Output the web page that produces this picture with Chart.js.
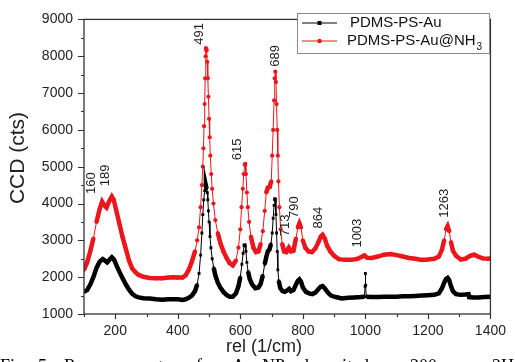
<!DOCTYPE html>
<html>
<head>
<meta charset="utf-8">
<script src="https://cdn.jsdelivr.net/npm/chart.js@4.4.1/dist/chart.umd.min.js"></script>
<style>
  html, body { margin: 0; padding: 0; background: #fff; overflow: hidden; }
</style>
</head>
<body>
<canvas id="ramanChart" width="515" height="362"></canvas>
<script>
// Raman spectra (rel. shift in 1/cm, CCD counts)
const auShift = [100, 110, 120, 130, 140, 150, 160, 167, 174, 182, 189, 196, 205, 213, 223, 234, 244, 254, 265, 275, 290, 310, 330, 350, 370, 385, 400, 415, 425, 435, 445, 455, 462, 468, 473, 477, 480, 483, 486, 488, 490, 492, 494, 496, 498, 500, 503, 506, 510, 515, 520, 528, 536, 546, 556, 566, 576, 586, 594, 600, 605, 609, 612, 615, 618, 621, 625, 630, 638, 648, 658, 665, 672, 678, 683, 688, 693, 698, 702, 705, 708, 710, 712, 714, 716, 718, 720, 723, 728, 735, 742, 750, 756, 762, 770, 778, 784, 789, 794, 800, 810, 820, 830, 840, 850, 857, 863, 870, 880, 890, 905, 925, 945, 965, 985, 997, 999, 1000, 1001, 1003, 1020, 1040, 1060, 1080, 1100, 1120, 1140, 1160, 1180, 1200, 1220, 1235, 1245, 1252, 1258, 1263, 1268, 1274, 1280, 1290, 1305, 1320, 1330, 1332, 1345, 1360, 1380, 1400];
const auCounts = [1600, 1650, 1800, 2000, 2250, 2420, 2490, 2450, 2400, 2480, 2540, 2480, 2300, 2150, 1980, 1800, 1660, 1550, 1480, 1450, 1430, 1420, 1400, 1390, 1400, 1400, 1400, 1380, 1400, 1440, 1500, 1620, 1800, 2100, 2600, 3200, 3700, 4100, 4350, 4450, 4480, 4400, 4300, 4100, 3800, 3500, 3100, 2800, 2500, 2250, 2050, 1850, 1720, 1600, 1520, 1470, 1470, 1560, 1750, 2000, 2350, 2650, 2850, 2880, 2700, 2400, 2150, 1950, 1800, 1700, 1720, 1820, 2050, 2350, 2550, 2700, 2750, 2900, 3200, 3600, 3950, 4130, 4100, 3700, 3200, 2700, 2200, 1900, 1700, 1620, 1600, 1640, 1680, 1620, 1650, 1800, 1900, 1940, 1880, 1720, 1600, 1560, 1540, 1580, 1680, 1740, 1760, 1700, 1580, 1500, 1460, 1420, 1440, 1450, 1460, 1470, 1750, 2100, 1780, 1470, 1460, 1460, 1470, 1470, 1470, 1480, 1480, 1490, 1500, 1510, 1520, 1560, 1700, 1850, 1950, 1980, 1920, 1750, 1620, 1540, 1520, 1530, 1540, 1460, 1450, 1450, 1460, 1470];

const nh3Shift = [100, 110, 120, 130, 140, 150, 158, 165, 172, 180, 189, 195, 205, 213, 223, 234, 244, 254, 265, 275, 290, 310, 330, 350, 370, 385, 400, 415, 425, 435, 445, 455, 462, 468, 473, 477, 480, 482, 484, 486, 487.5, 489, 490, 492, 494, 496, 498, 500, 502, 504, 507, 510, 514, 520, 528, 536, 546, 556, 566, 576, 586, 594, 600, 604, 608, 611, 614, 616, 618, 621, 624, 628, 634, 642, 650, 658, 665, 672, 678, 683, 688, 694, 699, 702, 705, 708, 710, 712, 714, 716, 718, 720, 722, 725, 729, 734, 740, 747, 755, 762, 770, 778, 784, 789, 794, 800, 808, 818, 829, 840, 850, 857, 863, 870, 878, 888, 900, 915, 935, 955, 975, 990, 997, 1005, 1020, 1040, 1060, 1080, 1100, 1120, 1140, 1160, 1180, 1200, 1220, 1235, 1245, 1252, 1258, 1263, 1268, 1274, 1280, 1290, 1305, 1320, 1335, 1348, 1360, 1375, 1390, 1400];
const nh3Counts = [2200, 2400, 2700, 3050, 3500, 3850, 4050, 3950, 3890, 4050, 4190, 4100, 3750, 3460, 3100, 2760, 2450, 2240, 2130, 2060, 2010, 1980, 1970, 1970, 1990, 2000, 1990, 1990, 2050, 2200, 2420, 2700, 3000, 3350, 3900, 4500, 5000, 5500, 6100, 6700, 7400, 8000, 8220, 8150, 7850, 7400, 6900, 6300, 5800, 5300, 4800, 4400, 4000, 3550, 3200, 2930, 2700, 2520, 2380, 2320, 2450, 2800, 3300, 3900, 4400, 4800, 5050, 5080, 4800, 4300, 3900, 3500, 3100, 2800, 2680, 2700, 2900, 3250, 3800, 4300, 4430, 4450, 4600, 5300, 6000, 6800, 7400, 7580, 7300, 6700, 6000, 5300, 4600, 3900, 3300, 2900, 2700, 2680, 2800, 2700, 2720, 3050, 3350, 3460, 3350, 3000, 2800, 2700, 2680, 2780, 2950, 3100, 3150, 3050, 2850, 2700, 2580, 2490, 2470, 2470, 2500, 2560, 2590, 2530, 2520, 2560, 2610, 2630, 2600, 2560, 2520, 2500, 2470, 2480, 2500, 2560, 2750, 3000, 3300, 3380, 3250, 2950, 2720, 2580, 2480, 2500, 2580, 2610, 2560, 2510, 2500, 2510];

const xTicks = [200, 400, 600, 800, 1000, 1200, 1400];
const yTicks = [1000, 2000, 3000, 4000, 5000, 6000, 7000, 8000, 9000];

// peak annotations: text and anchor in data units
const peakLabels = ['160', '189', '491', '615', '689', '713', '790', '864', '1003', '1263'];
const peakLabelAt = [[125, 4555], [169, 4765], [470, 8608], [592, 5470], [713, 8007], [745, 3405], [774, 3902], [849, 3614], [974, 3196], [1253, 4007]];

const RED = 'rgb(236, 22, 28)';
const SANS = '"Liberation Sans", Arial, sans-serif';

function toXY(xs, ys) {
    return xs.map((x, i) => ({ x: x, y: ys[i] }));
}

// thin line on steep flanks, a thick band where markers would overlap
function bandWidth(c) {
    const dx = Math.abs(c.p1.x - c.p0.x);
    const dy = Math.abs(c.p1.y - c.p0.y);
    return dy > 5 * dx ? 1 : 4.5;
}

const decorPlugin = {
    id: 'decor',
    afterDraw(chart) {
        const ctx = chart.ctx;
        const a = chart.chartArea;
        const xs = chart.scales.x;
        const ys = chart.scales.y;
        ctx.save();

        // frame
        ctx.strokeStyle = '#333';
        ctx.lineWidth = 1.3;
        ctx.strokeRect(a.left, a.top, a.right - a.left, a.bottom - a.top);

        // tick marks, outward
        ctx.lineWidth = 1.2;
        ctx.beginPath();
        for (let v = 100; v <= 1400; v += 100) {
            const px = Math.round(xs.getPixelForValue(v)) + 0.5;
            const len = v % 200 === 0 ? 5 : 3;
            ctx.moveTo(px, a.bottom);
            ctx.lineTo(px, a.bottom + len);
        }
        for (let v = 1000; v <= 9000; v += 500) {
            const py = Math.round(ys.getPixelForValue(v)) + 0.5;
            const len = v % 1000 === 0 ? 6 : 3;
            ctx.moveTo(a.left, py);
            ctx.lineTo(a.left - len, py);
        }
        ctx.stroke();

        // axis titles
        ctx.fillStyle = '#222';
        ctx.textAlign = 'center';
        ctx.textBaseline = 'middle';
        ctx.font = '18px ' + SANS;
        ctx.fillText('rel (1/cm)', 264, 347);
        ctx.save();
        ctx.translate(18, 158);
        ctx.rotate(-Math.PI / 2);
        ctx.font = '21px ' + SANS;
        ctx.fillText('CCD (cts)', 0, 0);
        ctx.restore();

        // peak labels
        ctx.font = '13px ' + SANS;
        peakLabels.forEach((t, i) => {
            ctx.save();
            ctx.translate(xs.getPixelForValue(peakLabelAt[i][0]), ys.getPixelForValue(peakLabelAt[i][1]));
            ctx.rotate(-Math.PI / 2);
            ctx.fillText(t, 0, 0);
            ctx.restore();
        });

        // legend
        const lx = 297, ly = 13, lw = 192, lh = 40;
        ctx.fillStyle = '#fff';
        ctx.fillRect(lx, ly, lw, lh);
        ctx.strokeStyle = '#888';
        ctx.lineWidth = 1;
        ctx.strokeRect(lx + 0.5, ly + 0.5, lw, lh);
        const rows = [
            { y: 23, color: '#000', rect: true },
            { y: 41, color: RED, rect: false }
        ];
        rows.forEach(r => {
            ctx.strokeStyle = r.color;
            ctx.fillStyle = r.color;
            ctx.lineWidth = 1;
            ctx.beginPath();
            ctx.moveTo(302, r.y);
            ctx.lineTo(337, r.y);
            ctx.stroke();
            ctx.beginPath();
            if (r.rect) ctx.rect(317.5, r.y - 2, 4, 4);
            else ctx.arc(319.5, r.y, 2.2, 0, Math.PI * 2);
            ctx.fill();
        });
        ctx.fillStyle = '#111';
        ctx.textAlign = 'left';
        ctx.font = '15px ' + SANS;
        ctx.fillText('PDMS-PS-Au', 350, 23);
        ctx.fillText('PDMS-PS-Au@NH', 347, 41);
        const w = ctx.measureText('PDMS-PS-Au@NH').width;
        ctx.font = '10px ' + SANS;
        ctx.fillText('3', 347 + w + 1, 47);

        // caption, cut off by the bottom of the picture
        ctx.fillStyle = '#000';
        ctx.font = '18px "Liberation Serif", "Times New Roman", serif';
        ctx.textBaseline = 'alphabetic';
        const words = [['Fig.', 0], ['5', 38], ['Raman', 64], ['spectra', 126], ['for', 196], ['Au', 232], ['NPs', 262], ['deposited', 300], ['on', 374], ['200', 410], ['nm', 450], ['2H', 492]];
        words.forEach(wd => ctx.fillText(wd[0], wd[1], 372));

        ctx.restore();
    }
};

const ctx = document.getElementById('ramanChart').getContext('2d');
new Chart(ctx, {
    type: 'line',
    data: {
        datasets: [{
            label: 'PDMS-PS-Au',
            data: toXY(auShift, auCounts),
            borderColor: '#000',
            backgroundColor: '#000',
            pointStyle: 'rect',
            pointRadius: 2,
            pointBorderWidth: 0,
            borderWidth: 1,
            segment: { borderWidth: bandWidth },
            order: 0
        }, {
            label: 'PDMS-PS-Au@NH3',
            data: toXY(nh3Shift, nh3Counts),
            borderColor: RED,
            backgroundColor: RED,
            pointStyle: 'circle',
            pointRadius: 2.1,
            pointBorderWidth: 0,
            borderWidth: 1,
            segment: { borderWidth: bandWidth },
            order: 1
        }]
    },
    options: {
        responsive: false,
        animation: false,
        layout: { padding: { left: 0, top: 8, right: 16, bottom: 0 } },
        plugins: {
            legend: { display: false },
            tooltip: { enabled: false }
        },
        scales: {
            x: {
                type: 'linear',
                min: 100,
                max: 1400,
                afterBuildTicks: s => { s.ticks = xTicks.map(v => ({ value: v })); },
                afterFit: s => { s.height = 48; },
                grid: { display: false, drawTicks: false },
                border: { display: false },
                ticks: {
                    color: '#222',
                    font: { size: 14, family: SANS },
                    padding: 9,
                    maxRotation: 0,
                    autoSkip: false,
                    callback: v => String(v)
                }
            },
            y: {
                min: 1000,
                max: 9000,
                afterBuildTicks: s => { s.ticks = yTicks.map(v => ({ value: v })); },
                afterFit: s => { s.width = 84; },
                grid: { display: false, drawTicks: false },
                border: { display: false },
                ticks: {
                    color: '#222',
                    font: { size: 14, family: SANS },
                    padding: 11,
                    callback: v => String(v)
                }
            }
        }
    },
    plugins: [decorPlugin]
});
</script>
</body>
</html>
